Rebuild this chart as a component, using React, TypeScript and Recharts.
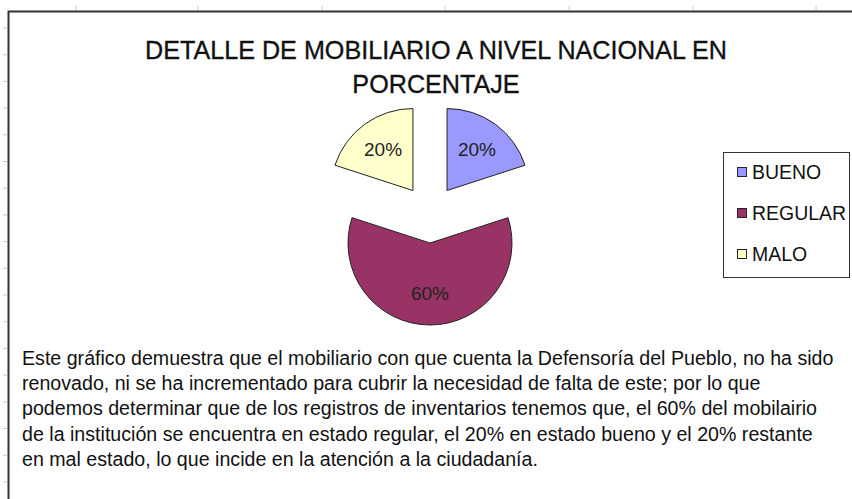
import { PieChart, Pie, Cell } from 'recharts';

const categories = ['BUENO', 'REGULAR', 'MALO'];
const values = [20, 60, 20];
const colors = ['#9999FF', '#993366', '#FFFFCC'];

const titleLines = ['DETALLE DE MOBILIARIO A NIVEL NACIONAL EN', 'PORCENTAJE'];

const noteLines = [
    'Este gráfico demuestra que el mobiliario con que cuenta la Defensoría del Pueblo, no ha sido',
    'renovado, ni se ha incrementado para cubrir la necesidad de falta de este; por lo que',
    'podemos determinar que de los registros de inventarios tenemos que, el 60% del mobilairio',
    'de la institución se encuentra en estado regular, el 20% en estado bueno y el 20% restante',
    'en mal estado, lo que incide en la atención a la ciudadanía.',
];

const data = categories.map((name, i) => ({ name, value: values[i] }));

const W = 852;
const H = 499;
const CX = 430;
const CY = 214;
const R = 82;
const EXPLODE = 29;
const RAD = Math.PI / 180;
const FONT = '"Liberation Sans", Arial, sans-serif';

// shift each slice outward along its middle angle (exploded pie)
const total = values.reduce((a, b) => a + b, 0);
let cum = 0;
const offsets = values.map((v) => {
    const mid = 90 - (360 * (cum + v / 2)) / total;
    cum += v;
    return { dx: EXPLODE * Math.cos(mid * RAD), dy: -EXPLODE * Math.sin(mid * RAD) };
});

const makeLabel = (k: number) => (props: any) => {
    if (props.index !== k) return null;
    const { cx, cy, midAngle, outerRadius, percent } = props;
    const x = cx + 0.62 * outerRadius * Math.cos(-midAngle * RAD);
    const y = cy + 0.62 * outerRadius * Math.sin(-midAngle * RAD);
    return (
        <text x={x} y={y} textAnchor="middle" dominantBaseline="central" fill="#222" fontSize={19} fontFamily={FONT}>
            {`${Math.round(percent * 100)}%`}
        </text>
    );
};

const topTicks = [76, 198, 322, 445, 569, 693, 816];
const leftTicks = Array.from({ length: 18 }, (_, i) => 28 + i * 26.7);

export default function App() {
    return (
        <div style={{ position: 'absolute', left: 0, top: 0, width: W, height: H, background: '#fff' }}>
            <svg width={W} height={H} style={{ position: 'absolute', left: 0, top: 0 }}>
                {/* spreadsheet grid ticks */}
                {topTicks.map((x) => (
                    <line key={x} x1={x} x2={x} y1={6} y2={10} stroke="#c8c8c8" />
                ))}
                {leftTicks.map((y) => (
                    <line key={y} x1={3} x2={7} y1={y} y2={y} stroke="#c8c8c8" />
                ))}
                {/* chart frame */}
                <path d={`M8.5 ${H} V11.5 H${W}`} fill="none" stroke="#333" strokeWidth={2} />

                {titleLines.map((t, i) => (
                    <g key={t} transform={`translate(436, ${59 + i * 34}) scale(0.95, 1)`}>
                        <text x={0} y={0} textAnchor="middle" fontSize={26.5} fontFamily={FONT} fill="#111" stroke="#111" strokeWidth={0.35}>
                            {t}
                        </text>
                    </g>
                ))}

                {/* legend */}
                <rect x={723.5} y={152.5} width={126} height={125} fill="#fff" stroke="#333" />
                {categories.map((c, i) => (
                    <g key={c} transform={`translate(752, ${179 + i * 41}) scale(0.95, 1)`}>
                        <rect x={-15.3} y={-11.5} width={9.5} height={9} fill={colors[i]} stroke="#222" />
                        <text x={0} y={0} fontSize={20.5} fontFamily={FONT} fill="#111">
                            {c}
                        </text>
                    </g>
                ))}

                {noteLines.map((t, i) => (
                    <g key={i} transform={`translate(22, ${365 + i * 25.2}) scale(0.935, 1)`}>
                        <text x={0} y={0} fontSize={21} fontFamily={FONT} fill="#111">
                            {t}
                        </text>
                    </g>
                ))}
            </svg>
            <div style={{ position: 'absolute', left: 0, top: 0 }}>
                <PieChart width={W} height={H} margin={{ top: 0, right: 0, bottom: 0, left: 0 }}>
                    {categories.map((c, k) => (
                        <Pie
                            key={c}
                            data={data}
                            dataKey="value"
                            nameKey="name"
                            cx={CX + offsets[k].dx}
                            cy={CY + offsets[k].dy}
                            outerRadius={R}
                            startAngle={90}
                            endAngle={-270}
                            label={makeLabel(k)}
                            labelLine={false}
                            isAnimationActive={false}
                        >
                            {data.map((d, i) => (
                                <Cell
                                    key={d.name}
                                    fill={i === k ? colors[i] : 'transparent'}
                                    stroke={i === k ? '#222' : 'none'}
                                    strokeWidth={1}
                                />
                            ))}
                        </Pie>
                    ))}
                </PieChart>
            </div>
        </div>
    );
}
